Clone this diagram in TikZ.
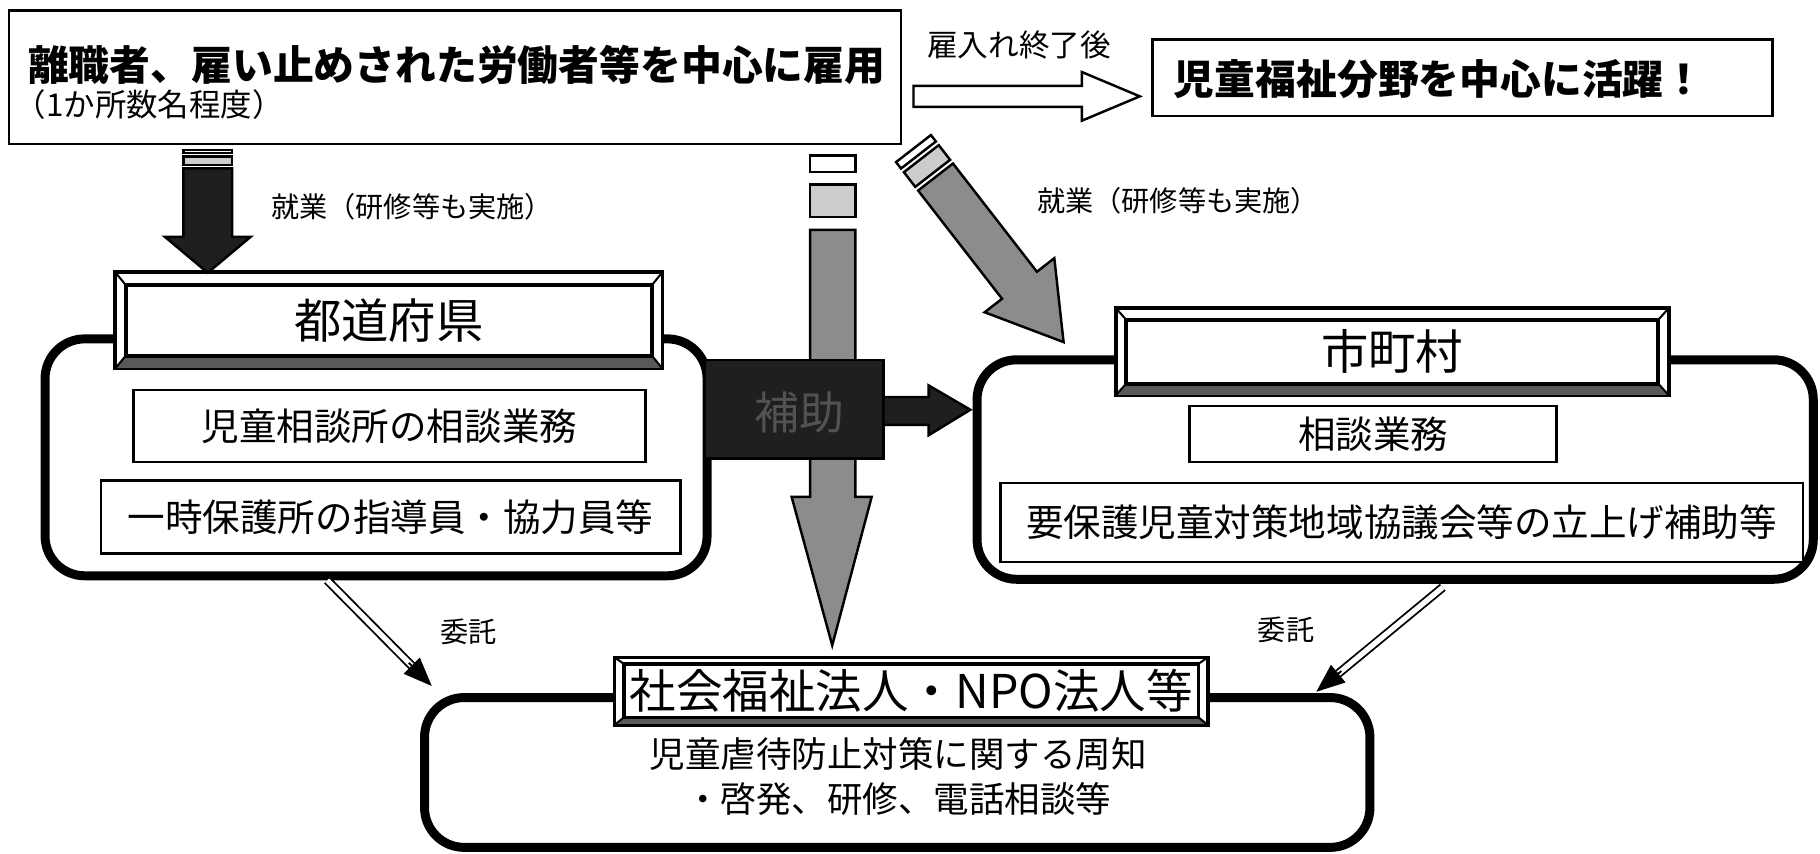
\documentclass[tikz,border=0pt]{standalone}
\usepackage{fontspec}
\setmainfont{Noto Sans CJK JP}
\usetikzlibrary{calc,arrows.meta}

\begin{document}
\begin{tikzpicture}[x=0.01cm, y=-0.01cm,
    thinbox/.style={draw, line width=0.6pt, fill=white, inner sep=0pt},
    roundframe/.style={draw, line width=2.2pt, rounded corners=9.7pt, inner sep=0pt},
    headbox/.style={draw, line width=0.6pt, fill=white, inner sep=0pt},
    headtitle/.style={draw, line width=0.6pt, inner sep=0pt, font=\fontsize{11.6}{13}\selectfont},
    blockarrow/.style={draw, line width=0.6pt, line join=miter},
    titlefont/.style={inner sep=0pt, font=\bfseries\fontsize{10}{12}\selectfont},
    labelfont/.style={inner sep=0pt, font=\fontsize{6.9}{8}\selectfont},
    itemfont/.style={font=\fontsize{9.2}{11}\selectfont},
    consign/.style={double, double distance=1.3pt, line width=0.45pt},
    consigntip/.style={-{Triangle[length=7pt,width=5.5pt]}, line width=0.45pt}]

    \definecolor{darkfill}{gray}{0.12}
    \definecolor{midfill}{gray}{0.55}
    \definecolor{lightfill}{gray}{0.8}
    \definecolor{bevelfill}{gray}{0.35}
    \definecolor{helptext}{gray}{0.32}

    \useasboundingbox (0,0) rectangle (1568,735);

    % Draw the three rounded frames
    \node[roundframe, minimum width=5.70cm, minimum height=2.04cm] (pref) at (324,394) {};
    \node[roundframe, minimum width=7.20cm, minimum height=1.89cm] (city) at (1202,404.5) {};
    \node[roundframe, minimum width=8.14cm, minimum height=1.29cm] (npo) at (773,665.5) {};

    % Draw the bevelled headers
    \node[headbox, minimum width=4.70cm, minimum height=0.82cm] (pref-head) at (335,276) {};
    \node[headtitle, minimum width=4.52cm, minimum height=0.60cm] (pref-title) at (335,276) {都道府県};
    \node[headbox, minimum width=4.75cm, minimum height=0.74cm] (city-head) at (1199.5,303) {};
    \node[headtitle, minimum width=4.57cm, minimum height=0.54cm] (city-title) at (1199.5,303) {市町村};
    \node[headbox, minimum width=5.10cm, minimum height=0.57cm] (npo-head) at (785,595.5) {};
    \node[headtitle, minimum width=4.94cm, minimum height=0.45cm, font=\fontsize{11.4}{13}\selectfont] (npo-title) at (785,595) {社会福祉法人・NPO法人等};

    \foreach \h in {pref, city, npo} {
        \fill[bevelfill] (\h-head.south west) -- (\h-head.south east) -- (\h-title.south east) -- (\h-title.south west) -- cycle;
        \draw[line width=0.5pt] (\h-head.north west) -- (\h-title.north west)
            (\h-head.north east) -- (\h-title.north east)
            (\h-head.south west) -- (\h-title.south west)
            (\h-head.south east) -- (\h-title.south east);
        \draw[line width=0.6pt] (\h-head.south west) rectangle (\h-head.north east);
        \draw[line width=0.6pt] (\h-title.south west) rectangle (\h-title.north east);
    }

    % Draw the tasks inside the frames
    \node[thinbox, itemfont, minimum width=4.41cm, minimum height=0.62cm] (pref-consult) at (335.5,367) {児童相談所の相談業務};
    \node[thinbox, itemfont, minimum width=4.99cm, minimum height=0.63cm] (pref-shelter) at (336.5,445.5) {一時保護所の指導員・協力員等};
    \node[thinbox, itemfont, minimum width=3.16cm, minimum height=0.48cm] (city-consult) at (1183,374) {相談業務};
    \node[thinbox, itemfont, minimum width=6.91cm, minimum height=0.68cm] (city-council) at (1207.5,450) {要保護児童対策地域協議会等の立上げ補助等};
    \node[align=center, font=\fontsize{8.7}{10.8}\selectfont] (npo-text) at (774,669) {児童虐待防止対策に関する周知\\・啓発、研修、電話相談等};

    % Draw the hiring box and the box on the right
    \node[thinbox, minimum width=7.68cm, minimum height=1.15cm] (hire) at (392,66.5) {};
    \node[titlefont] (hire-text) at (393.5,55.5) {離職者、雇い止めされた労働者等を中心に雇用};
    \node[labelfont, anchor=west, font=\fontsize{7.7}{9}\selectfont] (hire-note) at (12,90) {（1か所数名程度）};
    \node[thinbox, minimum width=5.34cm, minimum height=0.66cm] (active) at (1260,67) {};
    \node[titlefont] (active-text) at (1240,68) {児童福祉分野を中心に活躍！};

    % Draw the hollow arrow between them
    \draw[blockarrow, fill=white] (787,74) -- (932,74) -- (932,62) -- (982,83) -- (932,104) -- (932,92) -- (787,92) -- cycle;
    \node[labelfont, font=\fontsize{7.5}{9}\selectfont] (after-label) at (878,39) {雇入れ終了後};

    % Draw the dark arrow down to the prefecture
    \draw[blockarrow, fill=white] (158,129) rectangle (200,132);
    \draw[blockarrow, fill=lightfill] (158,135) rectangle (200,142);
    \draw[blockarrow, fill=darkfill] (158,145) -- (200,145) -- (200,204) -- (216,204) -- (179,235) -- (142,204) -- (158,204) -- cycle;
    \node[labelfont, anchor=west] (work-left) at (233,178) {就業（研修等も実施）};

    % Draw the grey arrow down the middle
    \draw[blockarrow, fill=white] (698,134) rectangle (737,148);
    \draw[blockarrow, fill=lightfill] (698,159) rectangle (737,187);
    \draw[blockarrow, fill=midfill] (698,198) -- (737,198) -- (737,428) -- (751,428) -- (717,556) -- (682,428) -- (698,428) -- cycle;

    % Draw the subsidy box and its arrow
    \node[draw, line width=0.6pt, fill=darkfill, minimum width=1.54cm, minimum height=0.85cm] (help) at (684,352.5) {};
    \node[text=helptext, font=\fontsize{11}{13}\selectfont] (help-text) at (689,355) {補助};
    \draw[blockarrow, fill=darkfill] (761,342) -- (800,342) -- (800,332) -- (836,353) -- (800,375) -- (800,366) -- (761,366) -- cycle;

    % Draw the slanted arrow down to the municipality
    \begin{scope}[shift={(787,128)}, rotate=-52.2]
        \draw[blockarrow, fill=white] (0,-19) rectangle (7,19);
        \draw[blockarrow, fill=lightfill] (11,-19) rectangle (27,19);
        \draw[blockarrow, fill=midfill] (31,-19) -- (149,-19) -- (149,-38) -- (211,0) -- (149,38) -- (149,19) -- (31,19) -- cycle;
    \end{scope}
    \node[labelfont, anchor=west] (work-right) at (893,173) {就業（研修等も実施）};

    % Draw the two consignment arrows
    \coordinate (pref-out) at (282,500);
    \coordinate (npo-left) at (372,591);
    \coordinate (city-out) at (1243,506);
    \coordinate (npo-right) at (1134,596);
    \draw[consign, shorten >=5pt] (pref-out) -- (npo-left);
    \draw[consigntip] ($(npo-left)!8pt!(pref-out)$) -- (npo-left);
    \draw[consign, shorten >=5pt] (city-out) -- (npo-right);
    \draw[consigntip] ($(npo-right)!8pt!(city-out)$) -- (npo-right);
    \node[labelfont] (consign-left) at (404,544) {委託};
    \node[labelfont] (consign-right) at (1108,543) {委託};

\end{tikzpicture}
\end{document}
